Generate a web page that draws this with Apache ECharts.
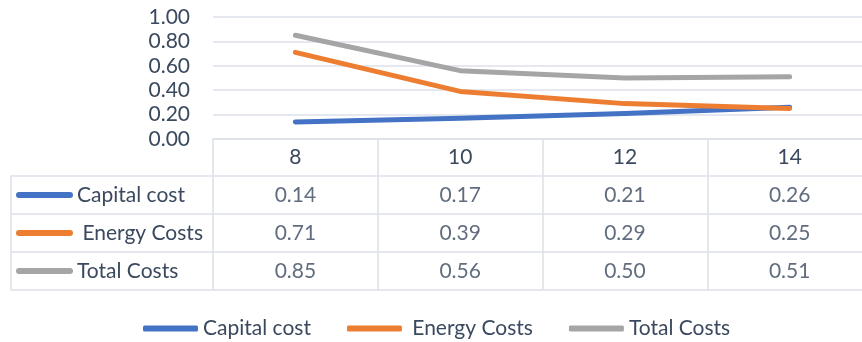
<!DOCTYPE html>
<html>
<head>
<meta charset="utf-8">
<script src="https://cdn.jsdelivr.net/npm/echarts@6/dist/echarts.min.js"></script>
<style>
  html, body { margin: 0; padding: 0; background: #ffffff; }
  #chart { width: 862px; height: 342px; }
</style>
</head>
<body>
<div id="chart"></div>
<script>
// Cost components per category
const categories = ['8', '10', '12', '14'];
const seriesNames = ['Capital cost', ' Energy Costs', 'Total Costs'];
const capitalCost = [0.14, 0.17, 0.21, 0.26];
const energyCosts = [0.71, 0.39, 0.29, 0.25];
const totalCosts = [0.85, 0.56, 0.50, 0.51];
const yTicks = { min: 0, max: 1, interval: 0.2 };

const seriesValues = [capitalCost, energyCosts, totalCosts];
const colors = ['#4472C4', '#ED7D31', '#A5A5A5'];
const textColor = '#3A495E';
const ruleColor = '#DCE1E8';
const fontFamily = 'Lato, "Open Sans", sans-serif';
const fontSize = 21;

// rich styles for the key column: a short coloured bar before each name
const keyRich = { t: { color: textColor, fontSize: fontSize, fontFamily: fontFamily }, g: { width: 4 } };
colors.forEach((c, i) => {
  keyRich['k' + i] = { width: 57, height: 6, backgroundColor: c, borderRadius: 3 };
});

// one cell per (category, series) for the data table
const cellData = [];
seriesValues.forEach((vals, s) => {
  vals.forEach((v, c) => cellData.push([c, s, v]));
});

const chart = echarts.init(document.getElementById('chart'), null, { renderer: 'canvas' });

chart.setOption({
  backgroundColor: '#ffffff',
  animation: false,
  textStyle: { fontFamily: fontFamily },
  grid: [
    // plot area
    { left: 213, top: 17, width: 659, height: 122, outerBoundsMode: 'none', containLabel: false },
    // table body incl. key column
    { left: 11, top: 176, width: 861, height: 114, outerBoundsMode: 'none', containLabel: false },
    // table value cells
    { left: 213, top: 176, width: 659, height: 114, outerBoundsMode: 'none', containLabel: false }
  ],
  xAxis: [
    {
      gridIndex: 0,
      type: 'category',
      data: categories,
      boundaryGap: true,
      axisLine: { show: true, lineStyle: { color: ruleColor, width: 1.5 } },
      axisTick: { show: true, interval: 0, length: 151, lineStyle: { color: ruleColor, width: 1.5 } },
      axisLabel: { color: textColor, fontSize: fontSize, fontFamily: fontFamily, margin: 8, interval: 0 },
      splitLine: { show: false }
    },
    { gridIndex: 1, type: 'value', show: false },
    { gridIndex: 2, type: 'category', data: categories, show: false }
  ],
  yAxis: [
    {
      gridIndex: 0,
      type: 'value',
      min: yTicks.min,
      max: yTicks.max,
      interval: yTicks.interval,
      axisLine: { show: false },
      axisTick: { show: false },
      axisLabel: {
        color: textColor, fontSize: fontSize, fontFamily: fontFamily, margin: 23,
        formatter: v => v.toFixed(2)
      },
      splitLine: { show: true, lineStyle: { color: ruleColor, width: 1.5 } }
    },
    {
      gridIndex: 1,
      type: 'category',
      data: seriesNames,
      inverse: true,
      axisLine: { show: true, lineStyle: { color: ruleColor, width: 1.5 } },
      axisTick: { show: false },
      axisLabel: {
        inside: true,
        margin: 5,
        interval: 0,
        formatter: (v, i) => '{k' + i + '|}{g|}{t|' + v + '}',
        rich: keyRich
      },
      splitLine: { show: true, interval: 0, lineStyle: { color: ruleColor, width: 1.5 } }
    },
    { gridIndex: 2, type: 'category', data: seriesNames, inverse: true, show: false }
  ],
  legend: {
    data: seriesNames,
    left: 138,
    top: 313,
    icon: 'roundRect',
    itemWidth: 55,
    itemHeight: 6,
    itemGap: 36,
    textStyle: { color: textColor, fontSize: fontSize, fontFamily: fontFamily },
    selectedMode: false
  },
  series: seriesNames.map((name, i) => ({
    name: name,
    type: 'line',
    xAxisIndex: 0,
    yAxisIndex: 0,
    data: seriesValues[i],
    showSymbol: false,
    symbol: 'none',
    color: colors[i],
    lineStyle: { color: colors[i], width: 5, cap: 'round', join: 'round' },
    z: 3 + i
  })).concat([{
    name: 'table',
    type: 'scatter',
    xAxisIndex: 2,
    yAxisIndex: 2,
    data: cellData,
    symbolSize: 1,
    itemStyle: { color: 'rgba(0,0,0,0)' },
    silent: true,
    label: {
      show: true,
      position: 'inside',
      color: textColor,
      fontSize: fontSize,
      fontFamily: fontFamily,
      formatter: p => p.data[2].toFixed(2)
    }
  }])
});
</script>
</body>
</html>
